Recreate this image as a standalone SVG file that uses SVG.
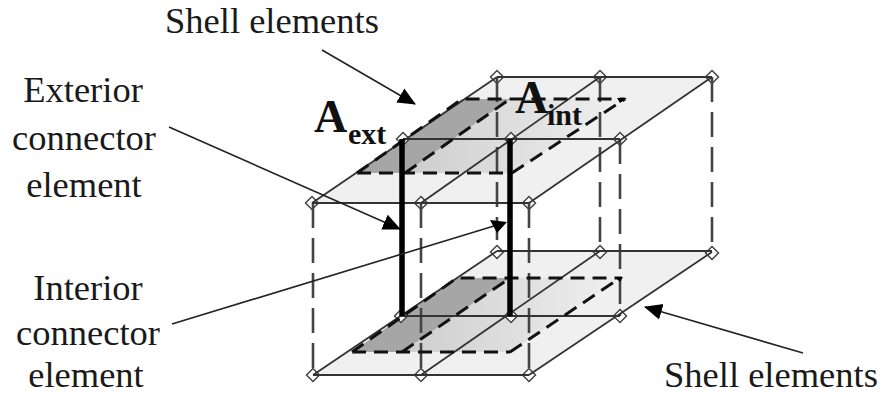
<svg xmlns="http://www.w3.org/2000/svg" width="882" height="397" viewBox="0 0 882 397">
<style>
text{font-family:"Liberation Serif","Times New Roman",serif;fill:#1a1a1a}
.lb{font-size:36.5px}
.big{font-size:46px;font-weight:bold;fill:#111}
.sub{font-size:30px;font-weight:bold;fill:#111}
.pl{fill:#f0f0f0;stroke:none}
.e{fill:none;stroke:#333;stroke-width:1.8}
.dv{fill:none;stroke:#444;stroke-width:2.6;stroke-dasharray:25 10}
.dk{fill:none;stroke:#111;stroke-width:3;stroke-dasharray:14 8}
.cn{fill:none;stroke:#000;stroke-width:5.5}
.ar{fill:none;stroke:#222;stroke-width:1.6}
.gr{fill:#a6a6a6;stroke:none}
.nd{fill:#fff;stroke:#444;stroke-width:1.5}
.hd{fill:#000;stroke:none}
</style>
<defs>
<linearGradient id="g" x1="0" y1="0" x2="1" y2="0"><stop offset="0" stop-color="#cdcdcd"/><stop offset="1" stop-color="#f0f0f0"/></linearGradient>
<polygon id="d" points="0,-6.5 6.5,0 0,6.5 -6.5,0" class="nd"/>
<marker id="m" markerUnits="userSpaceOnUse" markerWidth="22" markerHeight="18" refX="17" refY="9" orient="auto"><polygon points="0,1 18,9 0,17" fill="#000"/></marker>
</defs>
<g id="plane-bottom">
<polygon class="pl" points="313,375 529,375 712,252 497,252"/>
<polygon fill="url(#g)" points="402,352 510,352 620,278 510,278"/>
<polygon class="gr" points="352,352 402,352 510,278 457,278"/>
</g>
<g id="plane-top">
<polygon class="pl" points="312,203 529,203 712,77 497,77"/>
<polygon fill="url(#g)" points="405,173 512,173 625,99 510,99"/>
<polygon class="gr" points="357,173 405,173 510,99 462,99"/>
</g>
<g id="nodes-top">
<use href="#d" x="312" y="203"/><use href="#d" x="421" y="203"/><use href="#d" x="529" y="203"/>
<use href="#d" x="403" y="139"/><use href="#d" x="511" y="139"/><use href="#d" x="620" y="139"/>
<use href="#d" x="497" y="77"/><use href="#d" x="600" y="77"/><use href="#d" x="712" y="77"/>
</g>
<g id="nodes-bottom">
<use href="#d" x="313" y="375"/><use href="#d" x="421" y="375"/><use href="#d" x="529" y="375"/>
<use href="#d" x="401" y="316"/><use href="#d" x="511" y="316"/><use href="#d" x="620" y="316"/>
<use href="#d" x="497" y="252"/><use href="#d" x="600" y="252"/><use href="#d" x="712" y="253"/>
</g>
<g id="connectors">
<path class="dv" d="M313,203V375M421,203V375M529,203V375M497,77V240M600,77V251M620,139V316M712,77V251"/>
<path class="e" d="M312,203H529M403,139H620M497,77H712M312,203L497,77M421,203L600,77M529,203L712,77"/>
<path class="e" d="M313,375H529M401,316H620M497,251H712M313,375L497,251M421,375L600,251M529,375L712,252"/>
<path class="dk" d="M357,173L462,99H625M357,173H512M405,173L510,99M512,173L625,99"/>
<path class="dk" d="M352,352L457,278H620V279M352,352H510M402,352L510,278M510,352L620,278"/>
<polygon class="hd" points="617,98 627,98 620,103"/>
<polygon class="hd" points="615,277 623,277 620,282"/>
<path class="cn" d="M402,139V316M510,139V316"/>
<path class="ar" marker-end="url(#m)" d="M322,50L415,104"/>
<path class="ar" marker-end="url(#m)" d="M169,127L400,229"/>
<path class="ar" d="M172,324L494,226"/>
<polygon class="hd" points="490,220 507,222 497,233"/>
<path class="ar" marker-end="url(#m)" d="M803,353L645,307"/>
</g>
<g id="labels">
<text class="lb" x="165" y="33">Shell elements</text>
<text class="lb" x="83" y="102" text-anchor="middle">Exterior</text>
<text class="lb" x="84" y="150" text-anchor="middle">connector</text>
<text class="lb" x="84" y="197" text-anchor="middle">element</text>
<text class="lb" x="88" y="300" text-anchor="middle">Interior</text>
<text class="lb" x="88" y="345" text-anchor="middle">connector</text>
<text class="lb" x="86" y="387" text-anchor="middle">element</text>
<text class="lb" x="664" y="387">Shell elements</text>
<text class="big" x="314" y="132">A</text><text class="sub" x="348" y="144">ext</text>
<text class="big" x="515" y="113">A</text><text class="sub" x="547" y="125">int</text>
</g>
</svg>
